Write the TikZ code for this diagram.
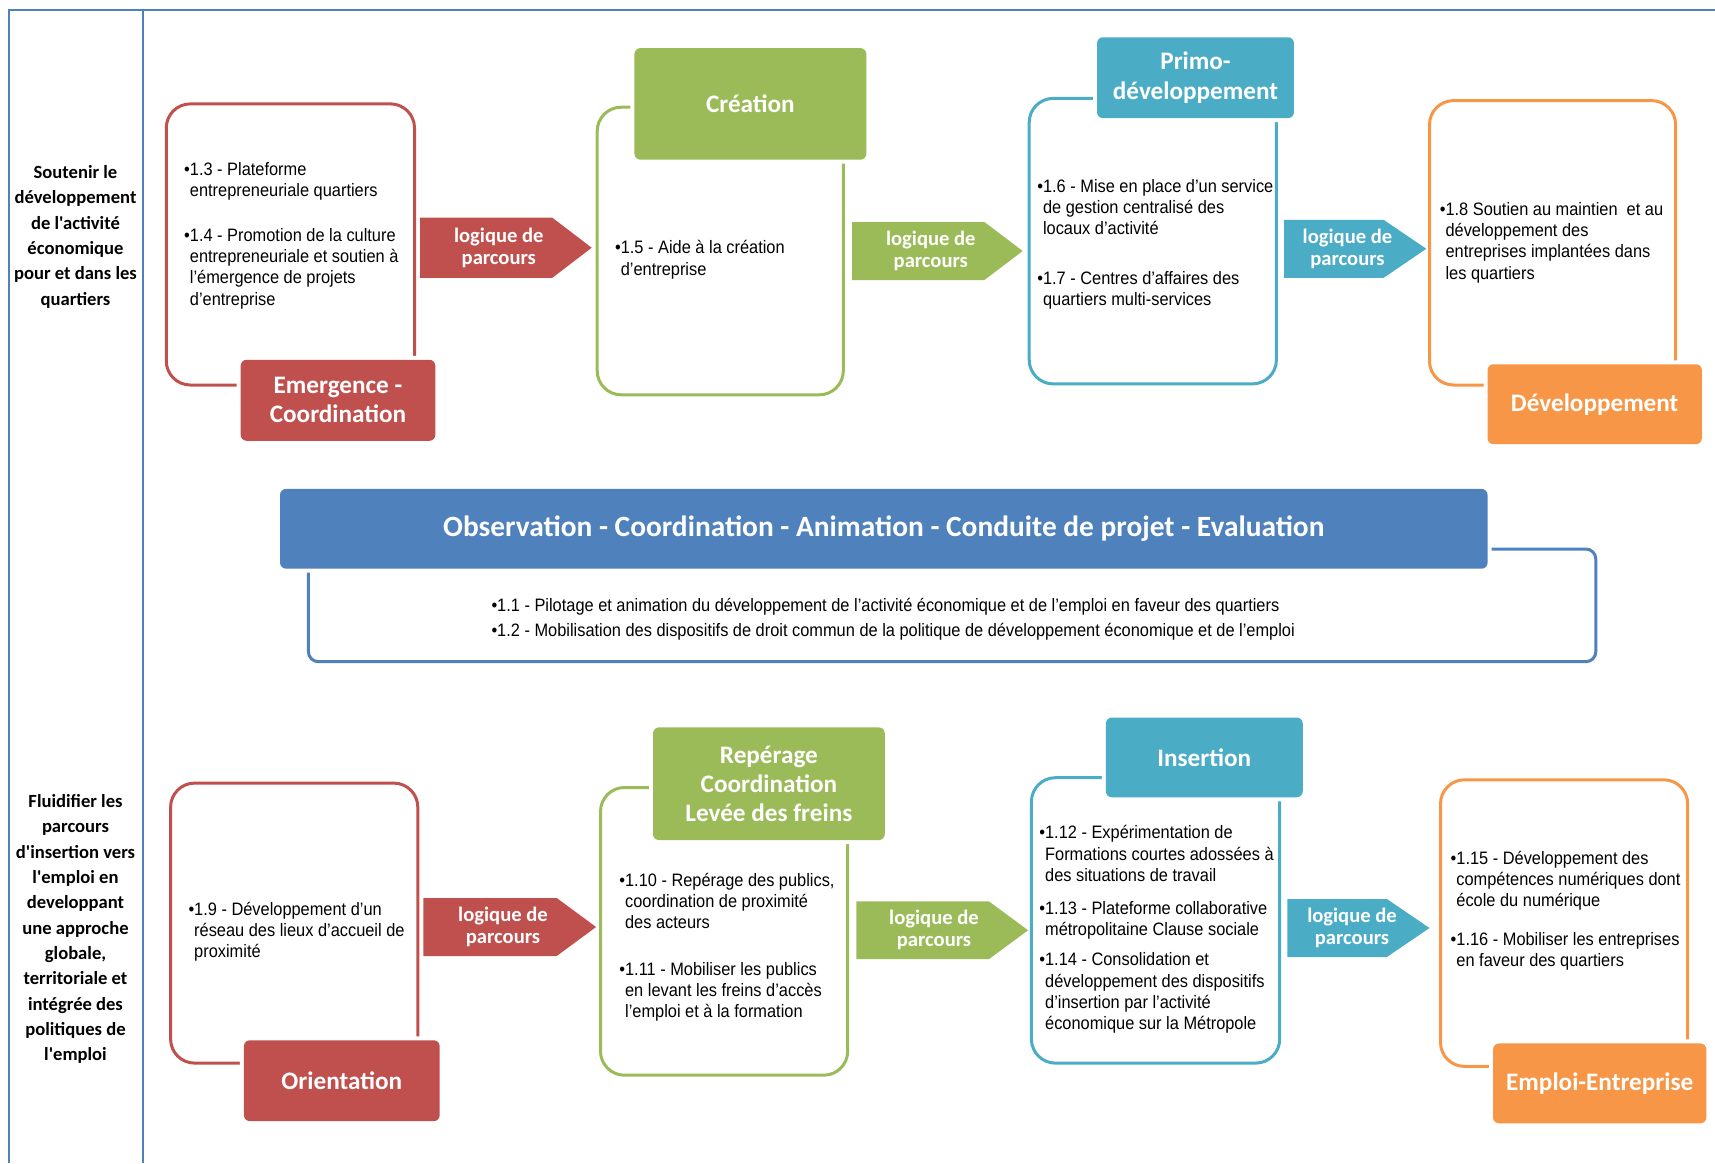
\documentclass[tikz,border=0pt]{standalone}
\usepackage{fontspec}
\setmainfont{Liberation Sans}[FakeStretch=0.91]
\newfontfamily\titlefont{Carlito}
\definecolor{rougeSA}{HTML}{C0504D}
\definecolor{vertSA}{HTML}{9BBB59}
\definecolor{bleuSA}{HTML}{4BACC6}
\definecolor{orangeSA}{HTML}{F79646}
\definecolor{bleuFonce}{HTML}{4F81BD}
\tikzset{%
	cadre/.style={draw=bleuFonce,line width=0.75pt},
	axe/.style={align=center,inner sep=0pt,font=\titlefont\bfseries\fontsize{9.3}{12.65}\selectfont},
	panel/.style={line width=1.5pt,rounded corners=12pt},
	head/.style={rounded corners=3pt,preaction={draw=white,line width=4pt},text=white,align=center,inner sep=0pt,font=\titlefont\bfseries\fontsize{12.6}{14.6}\selectfont},
	parcours/.style={text=white,align=center,inner sep=0pt,font=\titlefont\bfseries\fontsize{10.3}{10.9}\selectfont},
	items/.style={anchor=base west,inner sep=0pt,font=\fontsize{9}{10.6}\selectfont},
}
\begin{document}
\begin{tikzpicture}[x=0.5pt,y=-0.5pt]
	\useasboundingbox (0,0) rectangle (1715,1163);
	%cadre
	\draw[cadre] (1715,10) -- (9,10) -- (9,1163);
	\draw[cadre] (143,10) -- (143,1163);
	
	%axes
	\node[axe] (axe1) at (75.5,236.8) {Soutenir le\\développement\\de l'activité\\économique\\pour et dans les\\quartiers};
	\node[axe] (axe2) at (75.5,929.1) {Fluidifier les\\parcours\\d'insertion vers\\l'emploi en\\developpant\\une approche\\globale,\\territoriale et\\intégrée des\\politiques de\\l'emploi};
	
	%emergence
	\draw[panel,draw=rougeSA] (166.3,103.9) rectangle (414.5,385);
	\node[head,fill=rougeSA,minimum width=97.35pt,minimum height=40.5pt] (emergence) at (338,400.3) {Emergence -\\Coordination};
	\node[items] (t13) at (183.8,175) {\begin{tabular}[t]{@{}l@{}l@{}}•&1.3 - Plateforme\\&entrepreneuriale quartiers\\[12pt]•&1.4 - Promotion de la culture\\&entrepreneuriale et soutien à\\&l’émergence de projets\\&d’entreprise\end{tabular}};
	\fill[rougeSA] (420,217.7) -- (552.3,217.7) -- (591.7,247.75) -- (552.3,277.8) -- (420,277.8) -- cycle;
	\node[parcours] (p1) at (498.8,247.75) {logique de\\parcours};
	
	%creation
	\draw[panel,draw=vertSA] (597.2,107.2) rectangle (843.3,394.8);
	\node[head,fill=vertSA,minimum width=115.95pt,minimum height=55.8pt] (creation) at (750.4,103.9) {Création};
	\node[items] (t15) at (614.7,253.8) {\begin{tabular}[t]{@{}l@{}l@{}}•&1.5 - Aide à la création\\&d'entreprise\end{tabular}};
	\fill[vertSA] (852,222) -- (984.4,222) -- (1022.7,251) -- (984.4,280) -- (852,280) -- cycle;
	\node[parcours] (p2) at (930.8,251) {logique de\\parcours};
	
	%primo-developpement
	\draw[panel,draw=bleuSA] (1029.2,98.4) rectangle (1276.4,383.9);
	\node[head,fill=bleuSA,minimum width=98.45pt,minimum height=40.45pt] (primo) at (1195.5,77.7) {Primo-\\développement};
	\node[items] (t16) at (1036.9,192.5) {\begin{tabular}[t]{@{}l@{}l@{}}•&1.6 - Mise en place d'un service\\&de gestion centralisé des\\&locaux d'activité\\[14pt]•&1.7 - Centres d'affaires des\\&quartiers multi-services\end{tabular}};
	\fill[bleuSA] (1284,219.8) -- (1383.6,219.8) -- (1426.3,248.8) -- (1383.6,277.8) -- (1284,277.8) -- cycle;
	\node[parcours] (p3) at (1347.5,248.8) {logique de\\parcours};
	
	%developpement
	\draw[panel,draw=orangeSA] (1429.5,100.6) rectangle (1675.6,385);
	\node[head,fill=orangeSA,minimum width=107.2pt,minimum height=39.95pt] (developpement) at (1594.7,404.2) {Développement};
	\node[items] (t18) at (1439.4,215.5) {\begin{tabular}[t]{@{}l@{}l@{}}•&1.8 Soutien au maintien\ \ et au\\&développement des\\&entreprises implantées dans\\&les quartiers\end{tabular}};
	
	%observation
	\draw[panel,draw=bleuFonce,rounded corners=5pt] (308.4,549) rectangle (1595.8,661.7);
	\node[head,fill=bleuFonce,minimum width=603.75pt,minimum height=39.9pt,font=\titlefont\bfseries\fontsize{14.7}{17}\selectfont] (observation) at (883.8,528.8) {Observation - Coordination - Animation - Conduite de projet - Evaluation};
	\node[items,font=\fontsize{9}{12.5}\selectfont] (t11) at (491.1,611.5) {\begin{tabular}[t]{@{}l@{}l@{}}•&1.1 - Pilotage et animation du développement de l'activité économique et de l'emploi en faveur des quartiers\\•&1.2 - Mobilisation des dispositifs de droit commun de la politique de développement économique et de l'emploi\end{tabular}};
	
	%orientation
	\draw[panel,draw=rougeSA] (170.6,783.1) rectangle (417.8,1063.1);
	\node[head,fill=rougeSA,minimum width=97.9pt,minimum height=40.45pt] (orientation) at (341.8,1080.7) {Orientation};
	\node[items] (t19) at (188.1,915.5) {\begin{tabular}[t]{@{}l@{}l@{}}•&1.9 - Développement d’un\\&réseau des lieux d'accueil de\\&proximité\end{tabular}};
	\fill[rougeSA] (423.3,898) -- (556.7,898) -- (596.1,927) -- (556.7,956) -- (423.3,956) -- cycle;
	\node[parcours] (p4) at (503,927) {logique de\\parcours};
	
	%reperage
	\draw[panel,draw=vertSA] (600.5,787.5) rectangle (847.7,1075.2);
	\node[head,fill=vertSA,minimum width=115.9pt,minimum height=56.35pt] (reperage) at (768.9,783.7) {Repérage\\Coordination\\Levée des freins};
	\node[items] (t110) at (619,886) {\begin{tabular}[t]{@{}l@{}l@{}}•&1.10 - Repérage des publics,\\&coordination de proximité\\&des acteurs\\[12.9pt]•&1.11 - Mobiliser les publics\\&en levant les freins d’accès\\&l’emploi et à la formation\end{tabular}};
	\fill[vertSA] (856.4,901.3) -- (988.8,901.3) -- (1028.1,930.25) -- (988.8,959.2) -- (856.4,959.2) -- cycle;
	\node[parcours] (p5) at (934,930.25) {logique de\\parcours};
	
	%insertion
	\draw[panel,draw=bleuSA] (1031.4,777.7) rectangle (1279.7,1063.1);
	\node[head,fill=bleuSA,minimum width=98.45pt,minimum height=39.9pt] (insertion) at (1204.3,757.4) {Insertion};
	\node[items] (t112) at (1039,838.9) {\begin{tabular}[t]{@{}l@{}l@{}}•&1.12 - Expérimentation de\\&Formations courtes adossées à\\&des situations de travail\\[5.8pt]•&1.13 - Plateforme collaborative\\&métropolitaine Clause sociale\\[4.7pt]•&1.14 - Consolidation et\\&développement des dispositifs\\&d’insertion par l’activité\\&économique sur la Métropole\end{tabular}};
	\fill[bleuSA] (1287.4,899) -- (1386.9,899) -- (1429.5,928) -- (1386.9,957) -- (1287.4,957) -- cycle;
	\node[parcours] (p6) at (1352,928) {logique de\\parcours};
	
	%emploi-entreprise
	\draw[panel,draw=orangeSA] (1440.5,779.8) rectangle (1687.7,1066.4);
	\node[head,fill=orangeSA,minimum width=106.65pt,minimum height=39.95pt] (emploi) at (1599.7,1083.4) {Emploi-Entreprise};
	\node[items] (t115) at (1450.3,864.1) {\begin{tabular}[t]{@{}l@{}l@{}}•&1.15 - Développement des\\&compétences numériques dont\\&école du numérique\\[9pt]•&1.16 - Mobiliser les entreprises\\&en faveur des quartiers\end{tabular}};
\end{tikzpicture}
\end{document}
